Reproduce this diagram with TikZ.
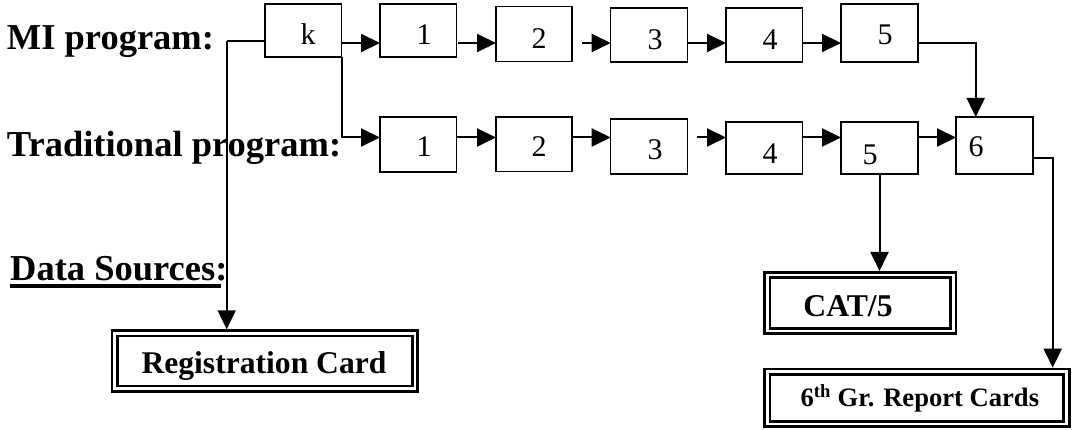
\documentclass[tikz,border=0pt]{standalone}
\usepackage{fontspec}
\setmainfont{Liberation Serif}
\usetikzlibrary{arrows.meta}
\begin{document}
\begin{tikzpicture}[x=1pt,y=-1pt,
  stage/.style={draw=black, line width=1.3pt, rectangle, inner sep=0pt, outer sep=0pt, anchor=north west},
  num/.style={inner sep=0pt, anchor=base, font=\fontsize{30}{32}\selectfont},
  lbl/.style={inner sep=0pt, anchor=base west, font=\fontsize{36.5}{40}\selectfont\bfseries},
  source/.style={draw=black, double, line width=2.7pt, double distance=2.7pt, rectangle, inner sep=0pt, outer sep=4.05pt},
  srctext/.style={inner sep=0pt, anchor=base, font=\fontsize{31.6}{36}\selectfont\bfseries},
  wire/.style={line width=2pt},
  link/.style={line width=2pt, -{Triangle[length=19pt,width=18pt]}}
]
\useasboundingbox (0,0) rectangle (1073,430);

% row labels
\node[lbl] (milbl) at (6.7,49.5) {MI program:};
\node[lbl] (trlbl) at (6.7,156.7) {Traditional program:};
\node[lbl] (dslbl) at (10,280) {Data Sources:};
\draw[line width=3pt] ([yshift=-6pt]dslbl.base west) -- ++(210.7,0);

% MI program stages
\node[stage, minimum width=76.7pt, minimum height=53pt] (k)  at (265,4) {};
\node[stage, minimum width=76.7pt, minimum height=53pt] (m1) at (380,4) {};
\node[stage, minimum width=76pt,   minimum height=55pt] (m2) at (496,6.5) {};
\node[stage, minimum width=77pt,   minimum height=54pt] (m3) at (610.7,8) {};
\node[stage, minimum width=76.7pt, minimum height=54pt] (m4) at (726,8) {};
\node[stage, minimum width=77pt,   minimum height=58pt] (m5) at (841,4) {};

% traditional program stages
\node[stage, minimum width=76.7pt, minimum height=55pt] (t1) at (380,117) {};
\node[stage, minimum width=76pt,   minimum height=54.5pt] (t2) at (496,117) {};
\node[stage, minimum width=77pt,   minimum height=55pt] (t3) at (610.7,119) {};
\node[stage, minimum width=76.7pt, minimum height=52pt] (t4) at (726,122) {};
\node[stage, minimum width=77pt,   minimum height=52pt] (t5) at (841,122) {};
\node[stage, minimum width=77pt,   minimum height=57pt] (t6) at (956,117) {};

% stage numbers
\node[num] (kn)  at (308,45) {k};
\node[num] (m1n) at (424,45) {1};
\node[num] (m2n) at (539,48.3) {2};
\node[num] (m3n) at (655,50) {3};
\node[num] (m4n) at (770,50) {4};
\node[num] (m5n) at (885,45) {5};
\node[num] (t1n) at (424,156.7) {1};
\node[num] (t2n) at (539,156.7) {2};
\node[num] (t3n) at (655,160) {3};
\node[num] (t4n) at (770,164) {4};
\node[num] (t5n) at (870,165) {5};
\node[num] (t6n) at (976,156.7) {6};

% data sources
\node[source, minimum width=300.3pt, minimum height=55.4pt] (reg) at (264.85,361) {};
\node[source, minimum width=186pt,   minimum height=56pt]   (cat) at (860.3,303) {};
\node[source, minimum width=299.2pt, minimum height=52.3pt] (rep) at (916.9,397.85) {};
\node[srctext] (regt) at (264,373) {Registration Card};
\node[srctext, font=\fontsize{31.7}{36}\selectfont\bfseries] (catt) at (848,316.7) {CAT/5};
\node[srctext, font=\fontsize{26.6}{30}\selectfont\bfseries] (rept) at (919.9,406.7) {6\textsuperscript{th} Gr. Report Cards};

% connector levels
\coordinate (rowA) at (0,43);
\coordinate (rowB) at (0,137.5);
\coordinate (rowC) at (0,157.7);
\coordinate (feed) at (226.7,41);
\coordinate (drop) at (975.7,0);
\coordinate (side) at (1052.7,0);

% entry line and registration source
\draw[wire] (feed) -- (feed -| k.west);
\draw[link] (feed) -- (feed |- reg.north);

% MI sequence
\draw[link] (k.east |- rowA) -- (m1.west |- rowA);
\draw[link] ([xshift=1.3pt]m1.east |- rowA) -- (m2.west |- rowA);
\draw[link] ([xshift=9.7pt]m2.east |- rowA) -- (m3.west |- rowA);
\draw[link] (m3.east |- rowA) -- (m4.west |- rowA);
\draw[link] (m4.east |- rowA) -- (m5.west |- rowA);
\draw[link] (m5.east |- rowA) -| (drop |- t6.north);

% traditional sequence
\draw[link] (k.south east) |- (t1.west |- rowB);
\draw[link] (t1.east |- rowB) -- (t2.west |- rowB);
\draw[link] (t2.east |- rowB) -- (t3.west |- rowB);
\draw[link] ([xshift=9pt]t3.east |- rowB) -- (t4.west |- rowB);
\draw[link] (t4.east |- rowB) -- (t5.west |- rowB);
\draw[link] ([xshift=1.3pt]t5.east |- rowB) -- (t6.west |- rowB);

% outcome sources
\draw[link] (t5.south) -- (t5.south |- cat.north);
\draw[link] (t6.east |- rowC) -| (side |- rep.north);
\end{tikzpicture}
\end{document}
